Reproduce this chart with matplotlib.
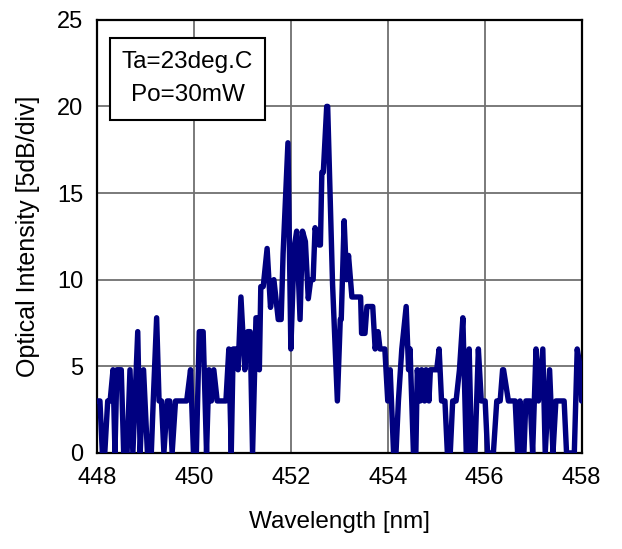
import matplotlib
matplotlib.use("Agg")
import matplotlib.pyplot as plt
from matplotlib.patches import Rectangle

# spectrum (nm, intensity in 5dB/div units)
wavelength = [
    448.00, 448.06, 448.11, 448.16, 448.22, 448.27, 448.33, 448.37, 448.41, 448.50,
    448.55, 448.62, 448.68, 448.74, 448.84, 448.89, 448.96, 449.04, 449.12, 449.16,
    449.23, 449.28, 449.33, 449.38, 449.45, 449.50, 449.55, 449.62, 449.70, 449.85,
    449.93, 449.99, 450.05, 450.11, 450.19, 450.26, 450.31, 450.36, 450.41, 450.48,
    450.66, 450.72, 450.77, 450.81, 450.87, 450.91, 450.97, 451.05, 451.11, 451.16,
    451.21, 451.28, 451.32, 451.35, 451.38, 451.43, 451.51, 451.58, 451.65, 451.74,
    451.80, 451.84, 451.94, 452.00, 452.07, 452.12, 452.19, 452.24, 452.30, 452.36,
    452.41, 452.46, 452.50, 452.58, 452.61, 452.64, 452.67, 452.74, 452.76, 452.86,
    452.96, 453.02, 453.04, 453.10, 453.15, 453.19, 453.26, 453.44, 453.46, 453.53,
    453.57, 453.69, 453.74, 453.80, 453.84, 453.94, 454.00, 454.05, 454.12, 454.17,
    454.22, 454.29, 454.38, 454.43, 454.46, 454.53, 454.58, 454.61, 454.67, 454.70,
    454.76, 454.79, 454.85, 454.88, 455.01, 455.06, 455.11, 455.18, 455.23, 455.29,
    455.34, 455.41, 455.48, 455.55, 455.62, 455.68, 455.73, 455.80, 455.87, 455.93,
    456.01, 456.06, 456.18, 456.25, 456.32, 456.37, 456.39, 456.49, 456.63, 456.68,
    456.73, 456.77, 456.81, 456.85, 456.94, 456.99, 457.06, 457.11, 457.20, 457.25,
    457.34, 457.41, 457.47, 457.64, 457.69, 457.85, 457.91, 457.98, 458.00,
]
intensity = [
    3.0, 3.0, 0.0, 0.0, 3.0, 3.0, 4.8, 0.0, 4.8, 4.8,
    0.0, 0.0, 4.8, 0.0, 7.0, 0.0, 4.8, 0.0, 0.0, 3.0,
    7.8, 3.0, 3.0, 0.0, 3.0, 3.0, 0.0, 3.0, 3.0, 3.0,
    4.8, 0.0, 0.0, 7.0, 7.0, 0.0, 4.8, 3.0, 4.8, 3.0,
    3.0, 6.0, 0.0, 6.0, 6.0, 4.8, 9.0, 4.8, 7.0, 7.0,
    0.0, 7.8, 7.8, 4.8, 9.6, 9.6, 11.8, 8.4, 10.0, 7.7,
    7.7, 11.5, 17.9, 6.0, 11.9, 12.8, 7.7, 12.8, 12.2, 8.9,
    10.0, 10.0, 13.0, 12.0, 12.0, 16.2, 16.2, 20.0, 20.0, 9.8,
    3.0, 7.7, 7.7, 13.4, 10.0, 11.4, 9.0, 9.0, 6.9, 6.9,
    8.45, 8.45, 6.0, 7.0, 6.0, 6.0, 3.0, 4.8, 0.0, 0.0,
    3.0, 6.0, 8.45, 4.8, 6.0, 0.0, 0.0, 4.8, 3.0, 4.8,
    3.0, 4.8, 3.0, 4.8, 4.8, 6.0, 3.0, 3.0, 0.0, 0.0,
    3.0, 3.0, 4.8, 7.8, 0.0, 6.0, 0.0, 0.0, 6.0, 3.0,
    3.0, 0.0, 0.0, 3.0, 3.0, 4.8, 4.8, 3.0, 3.0, 0.0,
    3.0, 0.0, 0.0, 3.0, 3.0, 0.0, 6.0, 3.0, 6.0, 0.0,
    4.8, 0.0, 3.0, 3.0, 0.0, 0.0, 6.0, 4.8, 3.0,
]

x_ticks = [448, 450, 452, 454, 456, 458]
y_ticks = [0, 5, 10, 15, 20, 25]
note_lines = ["Ta=23deg.C", "Po=30mW"]

plt.rcParams["font.family"] = ["Liberation Sans", "DejaVu Sans"]

fig = plt.figure(figsize=(6.22, 5.49), dpi=100)
ax = fig.add_axes([0.156, 0.175, 0.779, 0.789])

ax.plot(wavelength, intensity, color="#000080", linewidth=3.9,
        solid_joinstyle="round", solid_capstyle="round", zorder=3)

ax.set_xlim(448, 458)
ax.set_ylim(0, 25)
ax.set_xticks(x_ticks)
ax.set_yticks(y_ticks)
ax.grid(True, color="#707070", linewidth=1.3)
ax.set_axisbelow(True)
ax.tick_params(length=0, labelsize=17, pad=10)
for s in ax.spines.values():
    s.set_linewidth(1.6)
    s.set_color("black")

ax.set_xlabel("Wavelength [nm]", fontsize=17.5, labelpad=16)
ax.set_ylabel("Optical Intensity [5dB/div]", fontsize=18, labelpad=12)

# annotation box in the upper left corner
ax.add_patch(Rectangle((0.027, 0.769), 0.32, 0.189, transform=ax.transAxes,
                       facecolor="white", edgecolor="black", linewidth=1.5, zorder=4))
ax.text(0.187, 0.903, note_lines[0], transform=ax.transAxes, ha="center",
        va="center", fontsize=17.5, zorder=5)
ax.text(0.187, 0.826, note_lines[1], transform=ax.transAxes, ha="center",
        va="center", fontsize=17.5, zorder=5)

fig.savefig("out.png", dpi=100)
